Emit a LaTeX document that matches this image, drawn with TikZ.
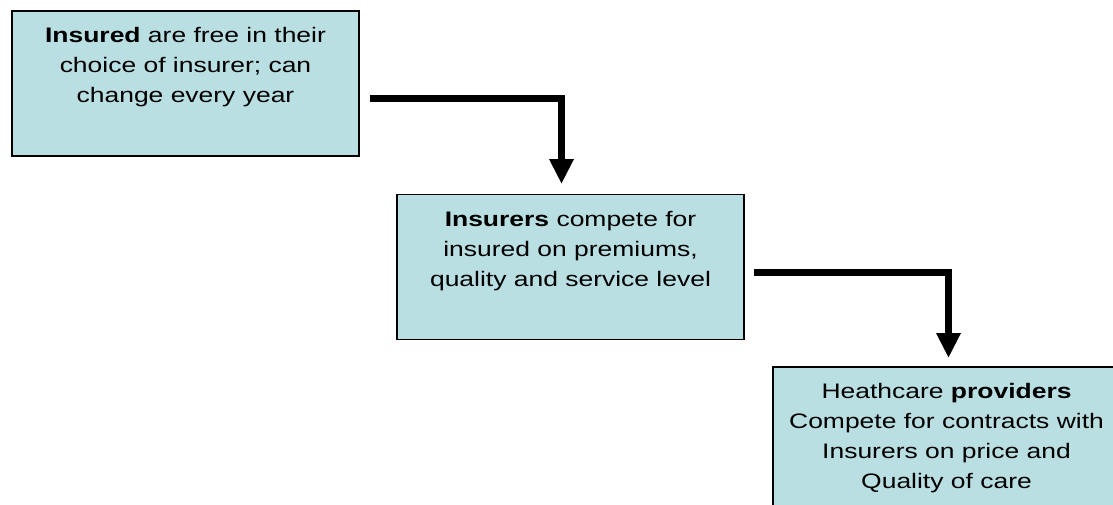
\documentclass[tikz,border=0pt]{standalone}
\usepackage{fontspec}
\setmainfont{Liberation Sans}[FakeStretch=1.26]
\usetikzlibrary{arrows.meta}
\definecolor{boxfill}{RGB}{185,223,226}
\tikzset{
  stage/.style={draw=black, line width=1.2pt, fill=boxfill, inner sep=0pt, outer sep=0pt},
  flow/.style={line width=7pt, -{Triangle[width=23pt,length=25pt]}},
}
% box contents: text hangs from the top edge, first baseline 31.5pt down
\newcommand{\stagetext}[1]{\parbox[c][145pt][t]{347pt}{\centering
  \fontsize{21pt}{30pt}\selectfont\rule{0pt}{31.5pt}#1\par}}
\begin{document}
\begin{tikzpicture}[x=1pt, y=-1pt]
  \useasboundingbox (0,0) rectangle (1113,504);
  \clip (0,0) rectangle (1113,504);

  \node[stage] (insured) at (185.5,83.5)
    {\stagetext{\textbf{Insured} are free in their\\choice of insurer; can\\change every year}};
  \node[stage] (insurers) at (570.5,267)
    {\stagetext{\textbf{Insurers} compete for\\insured on premiums,\\quality and service level}};
  \node[stage] (providers) at (946.5,439.5)
    {\stagetext{Heathcare \textbf{providers}\\Compete for contracts with\\Insurers on price and\\Quality of care}};

  % elbow connectors between the stages
  \coordinate (f1s) at (370,98);
  \coordinate (f1e) at (561.5,184);
  \coordinate (f2s) at (754,272);
  \coordinate (f2e) at (948.5,358);
  \draw[flow] (f1s) -| (f1e);
  \draw[flow] (f2s) -| (f2e);
\end{tikzpicture}
\end{document}
